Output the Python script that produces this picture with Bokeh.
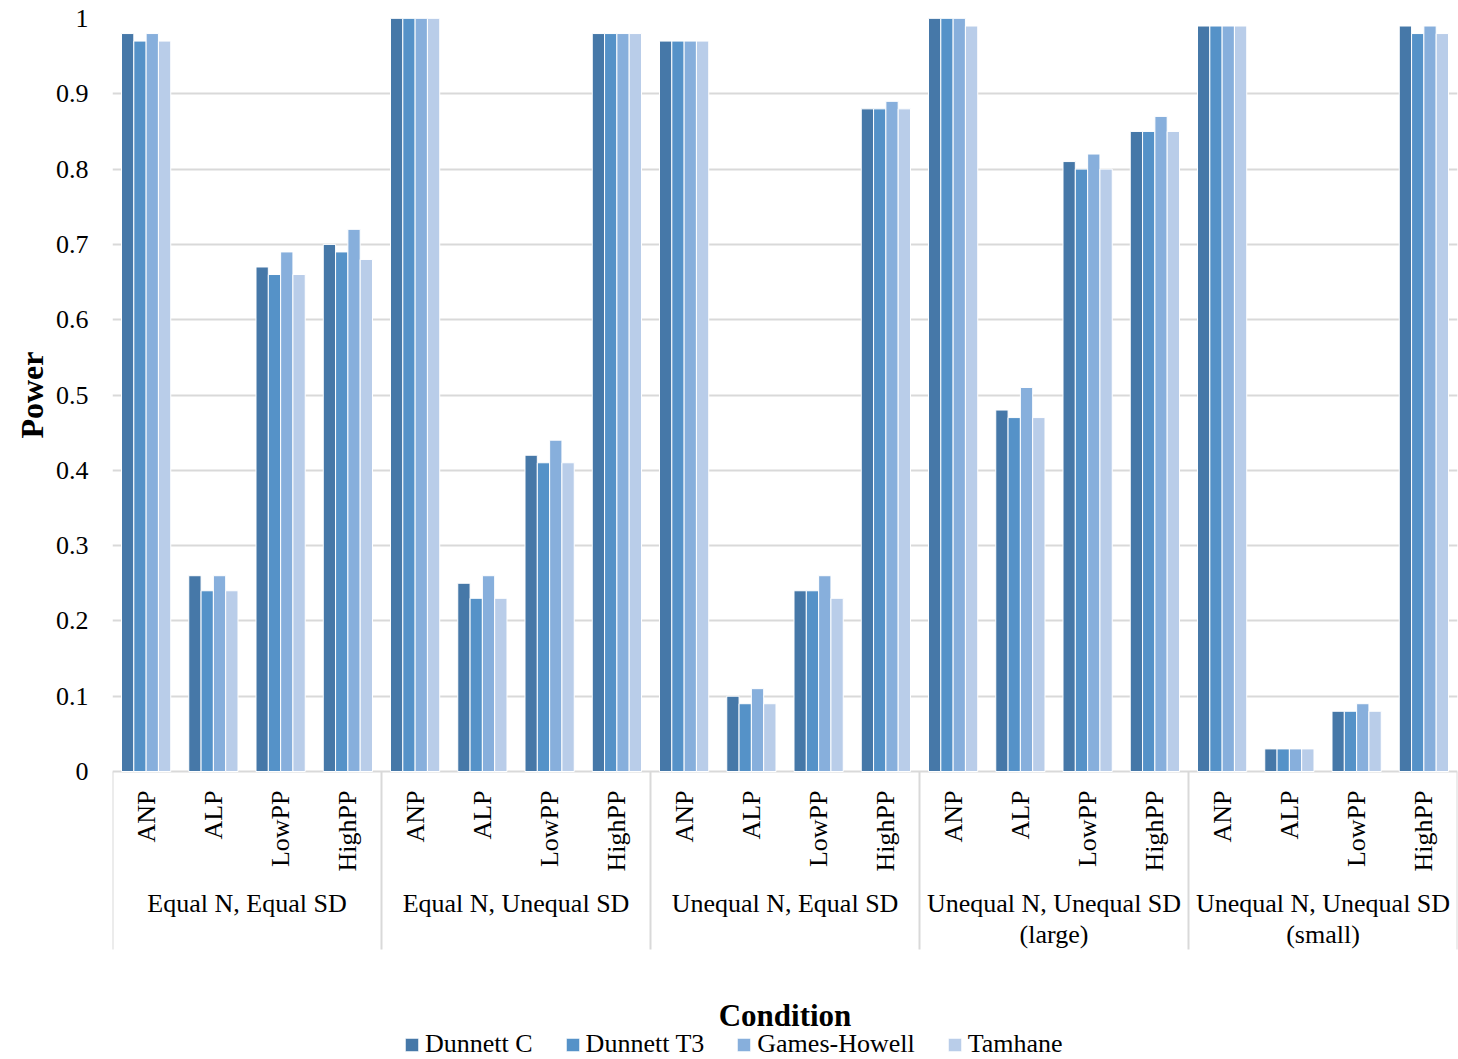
import math

from bokeh.core.properties import value
from bokeh.embed import file_html
from bokeh.models import (ColumnDataSource, FactorRange, FixedTicker, Legend,
                          LegendItem, Range1d, Title)
from bokeh.plotting import figure
from bokeh.resources import INLINE
from bokeh.transform import dodge

# ---- data -------------------------------------------------------------
groups = [
    "Equal N, Equal SD",
    "Equal N, Unequal SD",
    "Unequal N, Equal SD",
    "Unequal N, Unequal SD\n(large)",
    "Unequal N, Unequal SD\n(small)",
]
measures = ["ANP", "ALP", "LowPP", "HighPP"]
series = ["Dunnett C", "Dunnett T3", "Games-Howell", "Tamhane"]
colors = ["#4678a8", "#5592c8", "#87afdc", "#b9cde9"]

dunnett_c = [0.98, 0.26, 0.67, 0.70,
             1.00, 0.25, 0.42, 0.98,
             0.97, 0.10, 0.24, 0.88,
             1.00, 0.48, 0.81, 0.85,
             0.99, 0.03, 0.08, 0.99]
dunnett_t3 = [0.97, 0.24, 0.66, 0.69,
              1.00, 0.23, 0.41, 0.98,
              0.97, 0.09, 0.24, 0.88,
              1.00, 0.47, 0.80, 0.85,
              0.99, 0.03, 0.08, 0.98]
games_howell = [0.98, 0.26, 0.69, 0.72,
                1.00, 0.26, 0.44, 0.98,
                0.97, 0.11, 0.26, 0.89,
                1.00, 0.51, 0.82, 0.87,
                0.99, 0.03, 0.09, 0.99]
tamhane = [0.97, 0.24, 0.66, 0.68,
           1.00, 0.23, 0.41, 0.98,
           0.97, 0.09, 0.23, 0.88,
           0.99, 0.47, 0.80, 0.85,
           0.99, 0.03, 0.08, 0.98]

y_ticks = [0, 0.1, 0.2, 0.3, 0.4, 0.5, 0.6, 0.7, 0.8, 0.9, 1]

# ---- layout constants -------------------------------------------------
FONT = "Liberation Serif"
GRID = "#d9d9d9"
W, H = 1458, 1059
TOP, LEFT = 18, 112
UNIT = 753                       # pixels per 1.0 of power
BASE = TOP + UNIT                # pixel row of power = 0


def below(px):
    """Data y for a point `px` pixels below the zero line."""
    return -px / UNIT


factors = [(g, m) for g in groups for m in measures]
source = ColumnDataSource(dict(
    x=factors,
    dunnett_c=dunnett_c,
    dunnett_t3=dunnett_t3,
    games_howell=games_howell,
    tamhane=tamhane,
))
columns = ["dunnett_c", "dunnett_t3", "games_howell", "tamhane"]

x_range = FactorRange(*factors, factor_padding=0, group_padding=0,
                      subgroup_padding=0, range_padding=0)

p = figure(x_range=x_range, y_range=Range1d(below(H - BASE), 1),
           width=W, height=H, min_border_left=LEFT, min_border_right=1,
           min_border_top=TOP, min_border_bottom=0, x_axis_location=None,
           output_backend="svg", toolbar_location=None)
p.outline_line_color = None
p.background_fill_color = "white"
p.border_fill_color = "white"

# ---- bars -----------------------------------------------------------------
bar_w = 0.183
offsets = [-1.5 * bar_w, -0.5 * bar_w, 0.5 * bar_w, 1.5 * bar_w]
bars = []
for col, off, c in zip(columns, offsets, colors):
    r = p.vbar(x=dodge("x", off, range=x_range), top=col, width=bar_w,
               source=source, fill_color=c, line_color="white", line_width=1)
    bars.append(r)

# ---- value axis -------------------------------------------------------
yax = p.yaxis[0]
yax.bounds = (0, 1)
yax.ticker = FixedTicker(ticks=y_ticks)
yax.axis_line_color = None
yax.major_tick_line_color = None
yax.minor_tick_line_color = None
yax.major_tick_out = 0
yax.major_tick_in = 0
yax.major_label_standoff = 24
yax.major_label_text_font = FONT
yax.major_label_text_font_size = "26px"
yax.major_label_text_color = "black"

# axis title, centred on the 0..1 span rather than on the whole frame
# (its upper end sits `offset` pixels below the top of the frame)
title_size = 32
title_len = 2.72 * title_size
power_title = Title(text="Power", align="right",
                    offset=UNIT / 2 - title_len / 2,
                    text_font=FONT, text_font_size=f"{title_size}px",
                    text_font_style="bold", text_color="black", standoff=6)
p.add_layout(power_title, "left")

p.xgrid.grid_line_color = None
p.ygrid.ticker = FixedTicker(ticks=y_ticks)
p.ygrid.grid_line_color = GRID
p.ygrid.grid_line_width = 2

# ---- category labels and group separators ---------------------------
n_per = len(measures)
bounds = [i * n_per for i in range(len(groups) + 1)]
p.segment(x0=bounds, x1=bounds, y0=[0] * len(bounds),
          y1=[below(178)] * len(bounds), line_color=GRID, line_width=2)

p.text(x=factors, y=[below(19)] * len(factors), text=[m for _, m in factors],
       angle=math.pi / 2, text_align="right", text_baseline="middle",
       text_font=value(FONT), text_font_size="26px", text_color="black")

gx, gy, gt = [], [], []
for g in groups:
    for i, line in enumerate(g.split("\n")):
        gx.append(g)
        gy.append(below(132 + 31 * i))
        gt.append(line)
p.text(x=gx, y=gy, text=gt, text_align="center", text_baseline="middle",
       text_font=value(FONT), text_font_size="26px", text_color="black")

p.text(x=[len(factors) / 2], y=[below(244)], text=["Condition"],
       text_align="center", text_baseline="middle", text_font=value(FONT),
       text_font_size="31px", text_font_style="bold", text_color="black")

# ---- legend -------------------------------------------------------------
legend = Legend(items=[LegendItem(label=n, renderers=[r])
                       for n, r in zip(series, bars)],
                orientation="horizontal", location=(291, 0),
                glyph_width=17, glyph_height=17, label_standoff=5,
                spacing=31, padding=0, margin=0,
                label_text_font=FONT, label_text_font_size="26px",
                label_text_color="black", background_fill_alpha=0,
                border_line_color=None)
p.add_layout(legend, "center")

open("out.html", "w").write(file_html(p, INLINE))
